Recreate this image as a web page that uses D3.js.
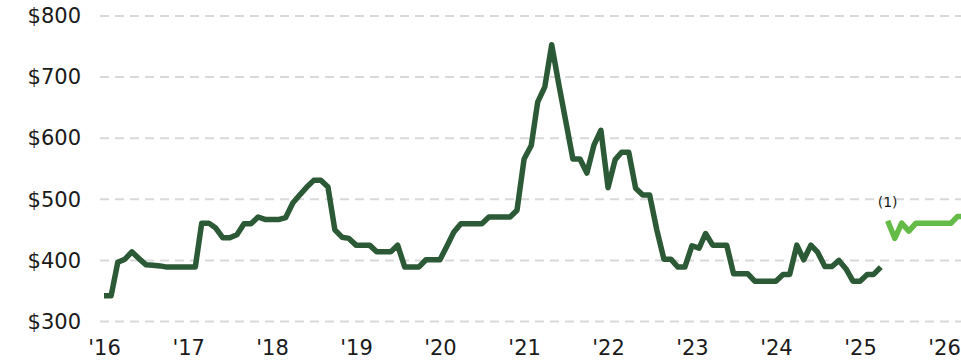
<!DOCTYPE html>
<html>
<head>
<meta charset="utf-8">
<script src="https://cdn.jsdelivr.net/npm/d3@7"></script>
<style>
  html, body { margin: 0; padding: 0; background: #ffffff; }
  svg { display: block; }
  text { font-family: "DejaVu Sans", Verdana, sans-serif; fill: #1a1a1a; }
</style>
</head>
<body>
<svg id="chart" width="961" height="363"></svg>
<script>
// Monthly price, actual series (starting January 2016)
const actualStart = "2016-01";
const actualPrices = [
  342, 342, 397, 402, 414, 403, 393, 392, 391, 389, 389, 389,   // 2016
  389, 389, 461, 461, 453, 437, 437, 442, 460, 460, 471, 467,   // 2017
  467, 467, 470, 494, 507, 520, 531, 531, 520, 450, 438, 436,   // 2018
  425, 425, 425, 414, 414, 414, 425, 389, 389, 389, 401, 401,   // 2019
  401, 424, 446, 460, 460, 460, 460, 471, 471, 471, 471, 482,   // 2020
  566, 588, 659, 684, 753, 688, 628, 566, 566, 543, 589, 613,   // 2021
  519, 565, 577, 577, 518, 507, 507, 450, 402, 402, 389, 389,   // 2022
  424, 420, 444, 425, 425, 425, 378, 378, 378, 366, 366, 366,   // 2023
  366, 377, 377, 425, 401, 425, 413, 390, 390, 400, 386, 366,   // 2024
  366, 377, 377, 389                                            // 2025
];

// Forward curve (starting May 2025)
const forecastStart = "2025-05";
const forecastPrices = [465, 436, 461, 448, 461, 461, 461, 461, 461, 461, 472, 472];
const forecastNote = "(1)";

// Axis ticks
const priceTicks = [300, 400, 500, 600, 700, 800];
const yearTicks = ["2016", "2017", "2018", "2019", "2020", "2021", "2022", "2023", "2024", "2025", "2026"];
const yearLabels = ["'16", "'17", "'18", "'19", "'20", "'21", "'22", "'23", "'24", "'25", "'26"];

const svg = d3.select("#chart");
const W = 961, H = 363;

const parseMonth = d3.utcParse("%Y-%m");
const parseYear = d3.utcParse("%Y");

const toSeries = (start, values) => {
  const s = parseMonth(start);
  return values.map((v, i) => ({ date: d3.utcMonth.offset(s, i), value: v }));
};
const actual = toSeries(actualStart, actualPrices);
const forecast = toSeries(forecastStart, forecastPrices);

const x = d3.scaleUtc()
  .domain([parseYear("2016"), parseYear("2026")])
  .range([104, 944]);
const y = d3.scaleLinear()
  .domain([300, 800])
  .range([321.5, 16]);

// Horizontal dashed gridlines
svg.append("g")
  .selectAll("line")
  .data(priceTicks)
  .join("line")
  .attr("x1", 100)
  .attr("x2", W)
  .attr("y1", d => y(d))
  .attr("y2", d => y(d))
  .attr("stroke", "#d9d9d9")
  .attr("stroke-width", 2)
  .attr("stroke-dasharray", "9,6");

// Price axis labels
const yAxis = d3.axisLeft(y)
  .tickValues(priceTicks)
  .tickSize(0)
  .tickPadding(0)
  .tickFormat(d => "$" + d);
const gy = svg.append("g").attr("transform", "translate(81,0)").call(yAxis);
gy.select(".domain").remove();
gy.selectAll("text")
  .attr("font-size", 21)
  .attr("font-family", "DejaVu Sans, Verdana, sans-serif")
  .attr("fill", "#1a1a1a");

// Year axis labels
const xAxis = d3.axisBottom(x)
  .tickValues(yearTicks.map(parseYear))
  .tickSize(0)
  .tickPadding(0)
  .tickFormat((d, i) => yearLabels[i]);
const gx = svg.append("g").attr("transform", "translate(0,340)").call(xAxis);
gx.select(".domain").remove();
gx.selectAll("text")
  .attr("font-size", 21)
  .attr("font-family", "DejaVu Sans, Verdana, sans-serif")
  .attr("fill", "#1a1a1a");

const line = d3.line()
  .x(d => x(d.date))
  .y(d => y(d.value));

svg.append("path")
  .datum(actual)
  .attr("d", line)
  .attr("fill", "none")
  .attr("stroke", "#2d5a36")
  .attr("stroke-width", 5.5)
  .attr("stroke-linejoin", "round");

svg.append("path")
  .datum(forecast)
  .attr("d", line)
  .attr("fill", "none")
  .attr("stroke", "#65bb47")
  .attr("stroke-width", 5.5)
  .attr("stroke-linejoin", "round");

// Footnote marker above the first forward point
svg.append("text")
  .attr("x", x(forecast[0].date))
  .attr("y", y(forecast[0].value) - 14)
  .attr("text-anchor", "middle")
  .attr("font-size", 14)
  .text(forecastNote);
</script>
</body>
</html>
